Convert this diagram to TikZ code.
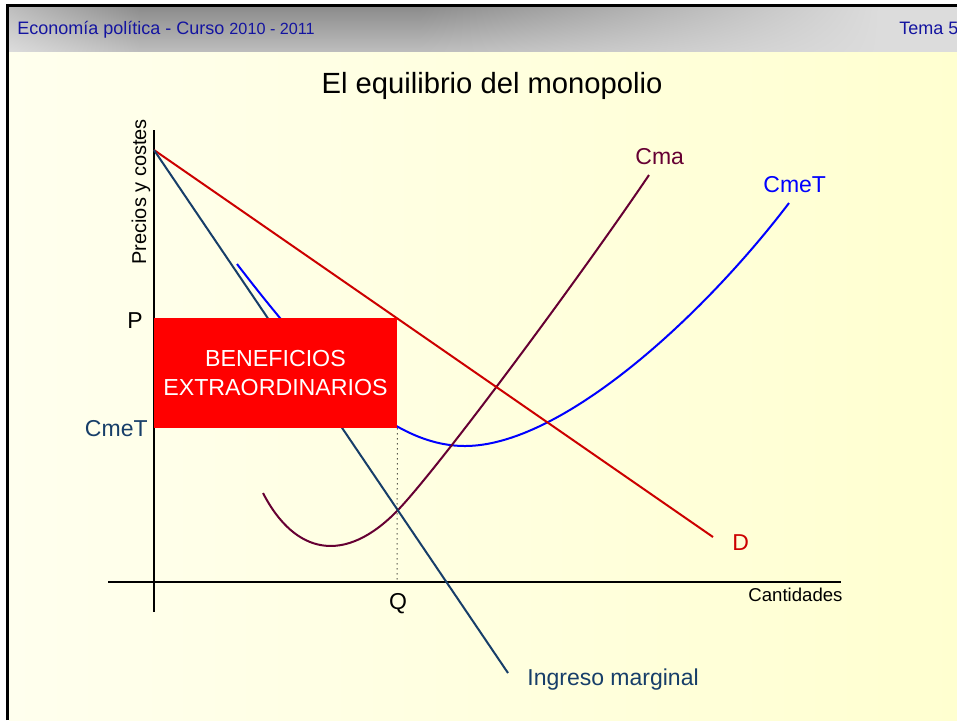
\documentclass[tikz,border=0pt]{standalone}
\usepackage{fontspec}
\setmainfont{Liberation Sans}
\usetikzlibrary{shadings}
\definecolor{headblue}{RGB}{20,20,160}
\definecolor{headdark}{RGB}{140,140,140}
\definecolor{headmid}{RGB}{190,190,190}
\definecolor{headlight}{RGB}{220,220,220}
\definecolor{demred}{RGB}{204,0,0}
\definecolor{imblue}{RGB}{23,62,105}
\definecolor{cmacol}{RGB}{102,0,51}
\definecolor{cmetcol}{RGB}{0,0,255}
\definecolor{benred}{RGB}{255,0,0}
\definecolor{creamleft}{RGB}{255,255,238}
\definecolor{creamright}{RGB}{255,255,208}
\tikzset{
	curve/.style={line width=1pt},
	axis/.style={line width=0.75pt},
	lbl/.style={inner sep=0pt,font=\fontsize{11.5}{13}\selectfont},
	headtxt/.style={inner sep=0pt,text=headblue,font=\fontsize{9}{11}\selectfont},
	title/.style={inner sep=0pt,font=\fontsize{14.6}{17}\selectfont},
	benefbox/.style={fill=benred,text=white,align=center,inner sep=0pt,minimum width=121.5pt,minimum height=55pt,font=\fontsize{11.6}{14.5}\selectfont}
}
\begin{document}
\begin{tikzpicture}[x=0.5pt,y=-0.5pt]
	\useasboundingbox (0,0) rectangle (957,720);
	\fill[white] (0,0) rectangle (957,720);
	\begin{scope}[y=0.5pt]
		\fill[headlight] (9,-7) rectangle (957,-52);
		\shade[upper left=headmid,upper right=headdark,lower left=headlight,lower right=headmid] (9,-7) rectangle (140,-52);
		\shade[upper left=headdark,upper right=headdark,lower left=headmid,lower right=headmid] (139,-7) rectangle (421,-52);
		\shade[upper left=headdark,upper right=headlight,lower left=headmid,lower right=headlight] (420,-7) rectangle (880,-52);
	\end{scope}
	\shade[left color=creamleft,right color=creamright] (9,52) rectangle (957,720);
	\draw[line width=1.5pt] (7.5,720) -- (7.5,5.5) -- (957,5.5);
	\node[headtxt,anchor=base west] (course) at (17,34) {Economía política - Curso {\fontsize{8.1}{9}\selectfont 2010 - 2011}};
	\node[headtxt,anchor=base west] (tema) at (899,34) {Tema 5};
	\node[title,anchor=base] (ttl) at (492,93) {El equilibrio del monopolio};
	\coordinate (ytop) at (154,130);
	\coordinate (ybot) at (154,612);
	\coordinate (xleft) at (108,582);
	\coordinate (xright) at (841,582);
	\coordinate (pmax) at (154,150);
	\coordinate (dend) at (713,537);
	\coordinate (imend) at (508,673);
	\coordinate (qaxis) at (397,582);
	\draw[axis] (ybot) -- (ytop);
	\draw[axis] (xleft) -- (xright);
	\draw[curve,cmetcol] (237,264) .. controls (320,372) and (390,446) .. (465,446) .. controls (560,446) and (700,320) .. (789,203);
	\draw[curve,cmacol] (263,493) .. controls (295,555) and (345,565) .. (398,510) .. controls (440,466) and (580,277) .. (649,175);
	\draw[curve,demred] (pmax) -- (dend);
	\draw[curve,imblue] (pmax) -- (imend);
	\node[benefbox] (benef) at (275.5,373) {BENEFICIOS\\EXTRAORDINARIOS};
	\draw[dotted,line width=0.5pt] (benef.south east) -- (qaxis);
	\node[lbl,anchor=base east] (plbl) at (143,328) {P};
	\node[lbl,anchor=base east,text=imblue] (cmetlbl) at (148,436) {CmeT};
	\node[lbl,anchor=base] (qlbl) at (398,609) {Q};
	\node[lbl,anchor=base west,text=cmacol] (cmalbl) at (635,164) {Cma};
	\node[lbl,anchor=base west,text=cmetcol] (cmetcurve) at (763,192) {CmeT};
	\node[lbl,anchor=base west,text=demred] (dlbl) at (732,550) {D};
	\node[lbl,anchor=base west,text=imblue] (imlbl) at (527,685) {Ingreso marginal};
	\node[inner sep=0pt,anchor=base west,font=\fontsize{9.3}{11}\selectfont] (xlbl) at (748,601) {Cantidades};
	\node[inner sep=0pt,anchor=base west,rotate=90,font=\fontsize{10}{12}\selectfont] (ylbl) at (146,265) {Precios y costes};
\end{tikzpicture}
\end{document}
